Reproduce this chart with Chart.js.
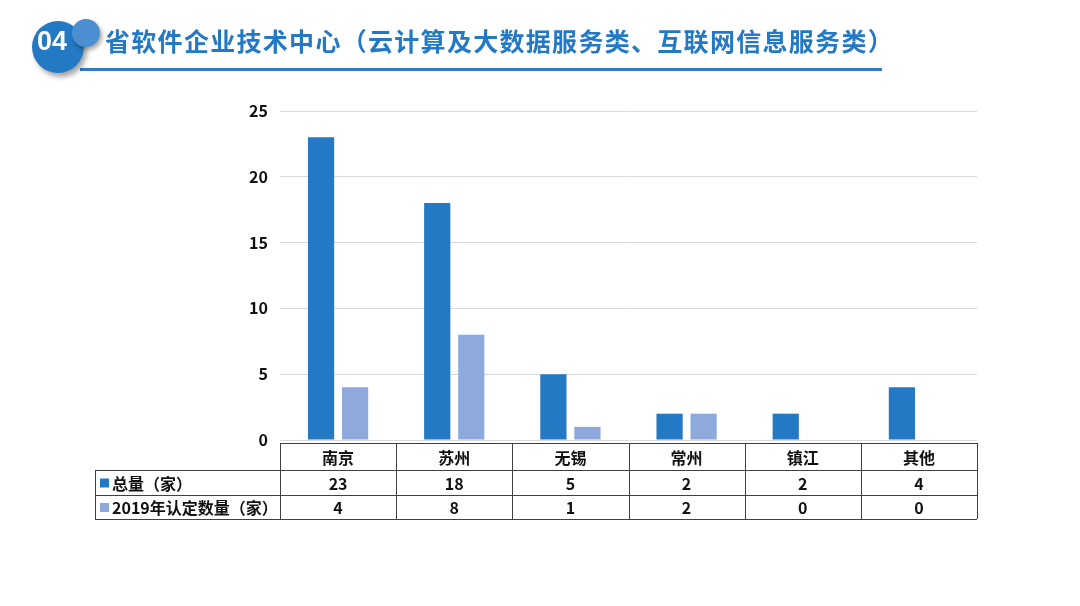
<!DOCTYPE html>
<html><head><meta charset="utf-8">
<script src="https://cdn.jsdelivr.net/npm/chart.js@4"></script>
<style>
html,body{margin:0;padding:0;background:#fff;}
#wrap{position:relative;width:1080px;height:606px;overflow:hidden;}
#c{position:absolute;left:0;top:0;}
.big{position:absolute;left:32px;top:21px;width:52px;height:52px;border-radius:50%;background:#2479C4;box-shadow:3px 4px 5px rgba(0,0,0,0.35);}
.small{position:absolute;left:72px;top:19px;width:28px;height:28px;border-radius:50%;background:#4B8FD2;box-shadow:2px 3px 4px rgba(0,0,0,0.35);}
.num{position:absolute;left:37px;top:26px;width:44px;font:bold 27px "Liberation Sans",Arial,sans-serif;color:#fff;}
.title{position:absolute;left:105px;top:22px;font:bold 25px "Noto Sans CJK SC",sans-serif;color:#2479C4;letter-spacing:1.3px;white-space:nowrap;}
.line{position:absolute;left:80px;top:68px;width:802px;height:3px;background:#2E7AC6;}
</style></head>
<body><div id="wrap">
<canvas id="c" width="1080" height="606"></canvas>
<div class="line"></div>
<div class="big"></div>
<div class="small"></div>
<div class="num">04</div>
<div class="title">省软件企业技术中心（云计算及大数据服务类、互联网信息服务类）</div>
</div>
<script>
const categories = ["南京","苏州","无锡","常州","镇江","其他"];
const totalLabel = "总量（家）";
const certLabel = "2019年认定数量（家）";
const totalValues = [23,18,5,2,2,4];
const certValues = [4,8,1,2,0,0];
const yTicks = [0,5,10,15,20,25];

const darkColor = "#2479C4";
const lightColor = "#8EA9DB";
const fontFam = '"Noto Sans CJK SC", sans-serif';

const tablePlugin = {
  id:'dataTable',
  afterDraw(chart){
    const ctx = chart.ctx, x = chart.scales.x, area = chart.chartArea;
    const n = categories.length;
    const step = (area.right - area.left)/n;
    const top = area.bottom + 3;
    const rows = [top, top+27, top+52, top+76];
    const leftEdge = 95;
    ctx.save();
    ctx.strokeStyle = "#404040";
    ctx.lineWidth = 1;
    ctx.beginPath();
    ctx.moveTo(area.left, rows[0]+0.5); ctx.lineTo(area.right, rows[0]+0.5);
    for (let r=1;r<4;r++){ ctx.moveTo(leftEdge, rows[r]+0.5); ctx.lineTo(area.right, rows[r]+0.5); }
    ctx.moveTo(leftEdge+0.5, rows[1]); ctx.lineTo(leftEdge+0.5, rows[3]);
    for (let i=0;i<=n;i++){
      const px = Math.round(area.left + i*step)+0.5;
      ctx.moveTo(px, rows[0]); ctx.lineTo(px, rows[3]);
    }
    ctx.stroke();
    ctx.fillStyle = "#111";
    ctx.font = "bold 16px " + fontFam;
    ctx.textAlign = "center"; ctx.textBaseline = "middle";
    for (let i=0;i<n;i++){
      const cx = x.getPixelForValue(i);
      ctx.fillText(categories[i], cx, (rows[0]+rows[1])/2+1);
      ctx.fillText(String(totalValues[i]), cx, (rows[1]+rows[2])/2+1);
      ctx.fillText(String(certValues[i]), cx, (rows[2]+rows[3])/2+1);
    }
    ctx.textAlign = "left";
    const labels = [[totalLabel, darkColor],[certLabel, lightColor]];
    labels.forEach((l, k)=>{
      const cy = (rows[k+1]+rows[k+2])/2;
      ctx.fillStyle = l[1];
      ctx.fillRect(100, cy-4, 9, 9);
      ctx.fillStyle = "#111";
      ctx.fillText(l[0], 112, cy+1);
    });
    ctx.restore();
  }
};

new Chart(document.getElementById('c'), {
  type:'bar',
  data:{
    labels: categories,
    datasets:[
      {label: totalLabel, data: totalValues, backgroundColor: darkColor, categoryPercentage:0.586, barPercentage:0.77},
      {label: certLabel, data: certValues, backgroundColor: lightColor, categoryPercentage:0.586, barPercentage:0.77}
    ]
  },
  options:{
    responsive:false,
    animation:false,
    layout:{padding:{left:0, right:103, top:111, bottom:166}},
    plugins:{legend:{display:false}, tooltip:{enabled:false}},
    scales:{
      x:{display:false},
      y:{
        min:0, max:25,
        afterBuildTicks(s){ s.ticks = yTicks.map(v=>({value:v})); },
        afterFit(s){ s.width = 280; },
        border:{display:false},
        grid:{color:"#D9D9D9", drawTicks:false},
        ticks:{padding:12, color:"#111", font:{family:fontFam, size:16, weight:'bold'}}
      }
    }
  },
  plugins:[tablePlugin]
});
</script>
</body></html>
